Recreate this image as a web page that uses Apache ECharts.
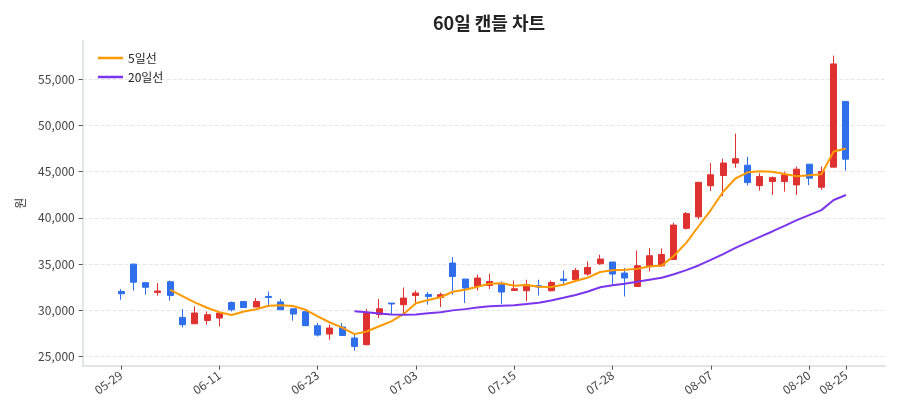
<!DOCTYPE html>
<html>
<head>
<meta charset="utf-8">
<script src="https://cdn.jsdelivr.net/npm/echarts@6/dist/echarts.min.js"></script>
<style>
  html, body { margin: 0; padding: 0; background: #fff; }
  #main { width: 900px; height: 420px; }
</style>
</head>
<body>
<div id="main"></div>
<script>
// 거래일 (60일)
const dates = [
    '05-29', '05-30', '06-02', '06-03', '06-04', '06-05', '06-09', '06-10', '06-11', '06-12',
    '06-13', '06-16', '06-17', '06-18', '06-19', '06-20', '06-23', '06-24', '06-25', '06-26',
    '06-27', '06-30', '07-01', '07-02', '07-03', '07-04', '07-07', '07-08', '07-09', '07-10',
    '07-11', '07-14', '07-15', '07-16', '07-17', '07-18', '07-21', '07-22', '07-23', '07-24',
    '07-28', '07-29', '07-30', '07-31', '08-01', '08-04', '08-05', '08-06', '08-07', '08-08',
    '08-11', '08-12', '08-13', '08-14', '08-18', '08-19', '08-20', '08-21', '08-22', '08-25'
];
const opens = [
    32050, 35000, 33000, 31950, 33100, 29250, 28560, 28920, 29180, 30860,
    30970, 30370, 31510, 30920, 30180, 29860, 28350, 27450, 28210, 27020,
    26300, 29540, 30800, 30620, 31620, 31730, 31400, 35120, 33390, 32590,
    32700, 32880, 32160, 32130, 32670, 32130, 33390, 33320, 33930, 35040,
    35230, 34040, 32590, 34830, 34820, 35510, 38870, 40110, 43470, 44580,
    45920, 45690, 43480, 43920, 43920, 43560, 45800, 43310, 45480, 52580
];
const closes = [
    31800, 33050, 32500, 32100, 31620, 28460, 29720, 29540, 29720, 30080,
    30320, 30970, 31400, 30080, 29610, 28350, 27340, 28100, 27300, 26110,
    29780, 30180, 30700, 31340, 31880, 31510, 31700, 33670, 32420, 33500,
    33130, 31990, 32340, 32780, 32530, 33020, 33240, 34320, 34640, 35550,
    33930, 33500, 34830, 35910, 36050, 39220, 40460, 43840, 44660, 45920,
    46390, 43810, 44460, 44350, 44640, 45260, 44290, 45000, 56630, 46340
];
const lows = [
    31150, 32150, 31700, 31600, 31050, 28160, 28560, 28460, 28270, 29890,
    30320, 30370, 30370, 30080, 28890, 28350, 27190, 26840, 27300, 25650,
    26220, 29180, 29640, 29720, 30620, 30620, 30370, 31700, 30800, 32160,
    32310, 30720, 32160, 30970, 31620, 32050, 32850, 33130, 33750, 34940,
    32780, 31510, 32530, 34210, 34700, 35510, 38750, 39860, 42900, 42350,
    45410, 43500, 42940, 42480, 42830, 42480, 43530, 43020, 45480, 45110
];
const highs = [
    32300, 35050, 33050, 32950, 33240, 30150, 30430, 29890, 29720, 30970,
    30970, 31340, 32050, 31230, 30180, 29860, 28640, 28460, 28640, 27380,
    30150, 31230, 30800, 32480, 32160, 31990, 31940, 35770, 33390, 33860,
    33960, 33130, 33240, 33320, 33320, 33240, 34320, 34580, 35290, 36020,
    35230, 34580, 36480, 36740, 36700, 39480, 40640, 43840, 45910, 46390,
    49100, 46590, 44830, 44460, 45000, 45540, 45800, 45540, 57530, 52580
];
const xTickIdx = [0, 8, 16, 24, 32, 40, 48, 56, 59];
const yTicks = [25000, 30000, 35000, 40000, 45000, 50000, 55000];

// 이동평균 (종가 기준)
function movingAvg(n) {
    const out = [];
    for (let i = n - 1; i < closes.length; i++) {
        let s = 0;
        for (let k = i - n + 1; k <= i; k++) s += closes[k];
        out.push([i, s / n]);
    }
    return out;
}

const chart = echarts.init(document.getElementById('main'));
const font = 'Noto Sans CJK KR';

const option = {
    animation: false,
    textStyle: { fontFamily: font },
    title: {
        text: '60일 캔들 차트',
        left: 484,
        textAlign: 'center',
        top: 9,
        textStyle: { fontSize: 18, fontWeight: 'bold', color: '#222', fontFamily: font }
    },
    legend: {
        orient: 'vertical',
        left: 93,
        top: 47,
        icon: 'rect',
        itemWidth: 25,
        itemHeight: 2.5,
        itemGap: 7,
        textStyle: { fontSize: 12, color: '#222', fontFamily: font },
        data: ['5일선', '20일선']
    },
    grid: { left: 82.7, right: 14.7, top: 40.7, bottom: 54.3 },
    xAxis: {
        type: 'value',
        min: -3.12,
        max: 62.2,
        axisLine: { onZero: false, lineStyle: { color: '#d9dce1', width: 1.5 } },
        axisTick: { customValues: xTickIdx, length: 4, lineStyle: { color: '#555' } },
        axisLabel: {
            customValues: xTickIdx,
            formatter: v => dates[v],
            rotate: 35,
            fontSize: 12,
            color: '#444',
            margin: 8
        },
        splitLine: { show: false }
    },
    yAxis: {
        type: 'value',
        min: 24030,
        max: 59140,
        name: '원',
        nameLocation: 'middle',
        nameGap: 56,
        nameRotate: 90,
        nameTextStyle: { fontSize: 12, color: '#333' },
        axisLine: { show: true, onZero: false, lineStyle: { color: '#d9dce1', width: 1.5 } },
        axisTick: { show: true, customValues: yTicks, length: 4, lineStyle: { color: '#555' } },
        axisLabel: {
            customValues: yTicks,
            formatter: v => v.toLocaleString('en-US'),
            fontSize: 12,
            color: '#444',
            margin: 8
        },
        splitLine: { show: true, lineStyle: { type: 'dashed', color: '#e6e6e6' } }
    },
    series: [
        {
            name: '캔들',
            type: 'candlestick',
            barWidth: 6.5,
            encode: { x: 0, y: [1, 2, 3, 4] },
            itemStyle: {
                color: '#e03131',
                color0: '#2f6fec',
                borderColor: '#e03131',
                borderColor0: '#2f6fec',
                borderWidth: 1
            },
            data: dates.map((d, i) => [i, opens[i], closes[i], lows[i], highs[i]])
        },
        {
            name: '5일선',
            type: 'line',
            showSymbol: false,
            symbol: 'none',
            lineStyle: { color: '#ff9900', width: 2 },
            itemStyle: { color: '#ff9900' },
            z: 5,
            data: movingAvg(5)
        },
        {
            name: '20일선',
            type: 'line',
            showSymbol: false,
            symbol: 'none',
            lineStyle: { color: '#7b35ee', width: 2 },
            itemStyle: { color: '#7b35ee' },
            z: 5,
            data: movingAvg(20)
        }
    ]
};
chart.setOption(option);
</script>
</body>
</html>
